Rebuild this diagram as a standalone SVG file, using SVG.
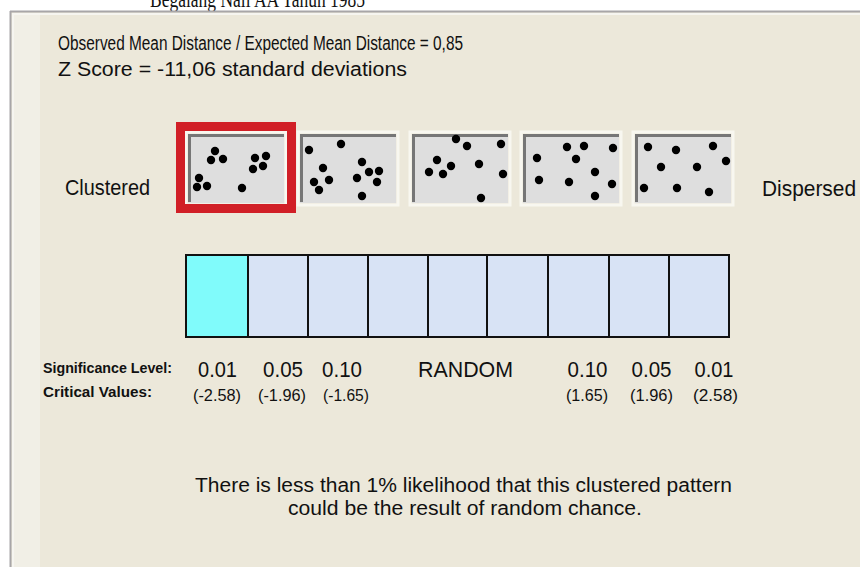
<svg xmlns="http://www.w3.org/2000/svg" width="860" height="567" viewBox="0 0 860 567">
<style>
.t{font-family:"Liberation Sans",Arial,sans-serif;fill:#111}
.m{font-size:20px}
.n{font-size:22px}
.p{font-size:17px}
.b{font-size:14px;font-weight:bold}
.pan{fill:#dedede}
.pdark{fill:none;stroke:#767676;stroke-width:3}
.pout{fill:none;stroke:#f8f7f0;stroke-width:3}
.cell{fill:#d8e3f5;stroke:#111;stroke-width:2}
.d{fill:#000}
</style>
<defs>
<circle id="dot" r="4.2"/>
</defs>
<rect width="860" height="567" fill="#ffffff"/>
<text class="t" x="150" y="7" style="font-family:'Liberation Serif',serif;font-size:24px" textLength="215" lengthAdjust="spacingAndGlyphs">Begalang Nali AA Tahun 1985</text>
<g id="frame">
<rect x="10" y="11" width="850" height="556" fill="#ece8da"/>
<rect x="12" y="13" width="28" height="554" fill="#f1efe6"/>
<line x1="10" y1="11.5" x2="860" y2="11.5" stroke="#a8a6a8" stroke-width="2"/>
<line x1="10.5" y1="11" x2="10.5" y2="567" stroke="#a8a6a8" stroke-width="2"/>
<line x1="12" y1="14" x2="860" y2="14" stroke="#f6f5f0" stroke-width="2"/>
<line x1="13" y1="14" x2="13" y2="567" stroke="#f6f5f0" stroke-width="2"/>
</g>
<g id="header">
<text class="t m" x="58" y="50" textLength="405" lengthAdjust="spacingAndGlyphs">Observed Mean Distance / Expected Mean Distance = 0,85</text>
<text class="t m" x="58" y="76" textLength="349" lengthAdjust="spacingAndGlyphs">Z Score = -11,06 standard deviations</text>
</g>
<g id="label-clustered"><text class="t n" x="65" y="195" textLength="85" lengthAdjust="spacingAndGlyphs">Clustered</text></g>
<g id="label-dispersed"><text class="t n" x="762" y="196" textLength="94" lengthAdjust="spacingAndGlyphs">Dispersed</text></g>
<g id="panels">
<g id="panel1">
<rect class="pout" x="186" y="132" width="100" height="73"/>
<rect class="pan" x="188" y="134" width="96" height="69"/>
<path class="pdark" d="M189.5 202 V135.5 H284"/>
<g class="d">
<use href="#dot" x="215" y="151"/><use href="#dot" x="211" y="160"/><use href="#dot" x="223" y="159"/>
<use href="#dot" x="255" y="158"/><use href="#dot" x="266" y="156"/><use href="#dot" x="263" y="166"/><use href="#dot" x="253" y="169"/>
<use href="#dot" x="199" y="178"/><use href="#dot" x="197" y="187"/><use href="#dot" x="207" y="186"/><use href="#dot" x="242" y="188"/>
</g>
</g>
<g id="panel2">
<rect class="pout" x="298" y="132" width="100" height="73"/>
<rect class="pan" x="300" y="134" width="96" height="69"/>
<path class="pdark" d="M301.5 202 V135.5 H396"/>
<g class="d">
<use href="#dot" x="309" y="150"/><use href="#dot" x="341" y="144"/><use href="#dot" x="323" y="168"/><use href="#dot" x="329" y="180"/>
<use href="#dot" x="314" y="182"/><use href="#dot" x="319" y="190"/><use href="#dot" x="362" y="162"/><use href="#dot" x="357" y="178"/>
<use href="#dot" x="369" y="172"/><use href="#dot" x="379" y="171"/><use href="#dot" x="377" y="182"/><use href="#dot" x="362" y="196"/>
</g>
</g>
<g id="panel3">
<rect class="pout" x="410" y="132" width="100" height="73"/>
<rect class="pan" x="412" y="134" width="96" height="69"/>
<path class="pdark" d="M413.5 202 V135.5 H508"/>
<g class="d">
<use href="#dot" x="456" y="139"/><use href="#dot" x="467" y="146"/><use href="#dot" x="437" y="160"/><use href="#dot" x="451" y="166"/>
<use href="#dot" x="429" y="172"/><use href="#dot" x="443" y="174"/><use href="#dot" x="479" y="164"/><use href="#dot" x="481" y="198"/>
<use href="#dot" x="501" y="144"/><use href="#dot" x="503" y="174"/>
</g>
</g>
<g id="panel4">
<rect class="pout" x="521" y="132" width="100" height="73"/>
<rect class="pan" x="523" y="134" width="96" height="69"/>
<path class="pdark" d="M524.5 202 V135.5 H619"/>
<g class="d">
<use href="#dot" x="567" y="147"/><use href="#dot" x="584" y="146"/><use href="#dot" x="613" y="148"/><use href="#dot" x="537" y="158"/>
<use href="#dot" x="576" y="159"/><use href="#dot" x="595" y="172"/><use href="#dot" x="539" y="180"/><use href="#dot" x="569" y="182"/>
<use href="#dot" x="612" y="184"/><use href="#dot" x="595" y="196"/>
</g>
</g>
<g id="panel5">
<rect class="pout" x="633" y="132" width="100" height="73"/>
<rect class="pan" x="635" y="134" width="96" height="69"/>
<path class="pdark" d="M636.5 202 V135.5 H731"/>
<g class="d">
<use href="#dot" x="648" y="147"/><use href="#dot" x="676" y="150"/><use href="#dot" x="713" y="146"/><use href="#dot" x="726" y="161"/>
<use href="#dot" x="661" y="167"/><use href="#dot" x="697" y="167"/><use href="#dot" x="644" y="188"/><use href="#dot" x="677" y="188"/>
<use href="#dot" x="709" y="192"/>
</g>
</g>
<g id="highlight">
<rect x="180.5" y="126.5" width="111" height="82" fill="none" stroke="#d11f26" stroke-width="9"/>
</g>
</g>
<g id="scale">
<rect class="cell" x="186" y="255" width="62" height="82" style="fill:#80fbfb"/>
<rect class="cell" x="248" y="255" width="60" height="82"/>
<rect class="cell" x="308" y="255" width="60" height="82"/>
<rect class="cell" x="368" y="255" width="60" height="82"/>
<rect class="cell" x="428" y="255" width="59" height="82"/>
<rect class="cell" x="487" y="255" width="61" height="82"/>
<rect class="cell" x="548" y="255" width="61" height="82"/>
<rect class="cell" x="609" y="255" width="60" height="82"/>
<rect class="cell" x="669" y="255" width="60" height="82"/>
</g>
<g id="levels">
<text class="t b" x="43" y="373" textLength="129" lengthAdjust="spacingAndGlyphs">Significance Level:</text>
<text class="t b" x="43" y="397" textLength="109" lengthAdjust="spacingAndGlyphs">Critical Values:</text>
<g text-anchor="middle">
<text class="t n" x="217.5" y="377" textLength="39" lengthAdjust="spacingAndGlyphs">0.01</text>
<text class="t n" x="283" y="377" textLength="40" lengthAdjust="spacingAndGlyphs">0.05</text>
<text class="t n" x="342" y="377" textLength="40" lengthAdjust="spacingAndGlyphs">0.10</text>
<text class="t n" x="465.5" y="377" textLength="95" lengthAdjust="spacingAndGlyphs">RANDOM</text>
<text class="t n" x="587.5" y="377" textLength="40" lengthAdjust="spacingAndGlyphs">0.10</text>
<text class="t n" x="651.5" y="377" textLength="40" lengthAdjust="spacingAndGlyphs">0.05</text>
<text class="t n" x="714" y="377" textLength="39" lengthAdjust="spacingAndGlyphs">0.01</text>
<text class="t p" x="217" y="401" textLength="48" lengthAdjust="spacingAndGlyphs">(-2.58)</text>
<text class="t p" x="282" y="401" textLength="48" lengthAdjust="spacingAndGlyphs">(-1.96)</text>
<text class="t p" x="346" y="401" textLength="46" lengthAdjust="spacingAndGlyphs">(-1.65)</text>
<text class="t p" x="587" y="401" textLength="42" lengthAdjust="spacingAndGlyphs">(1.65)</text>
<text class="t p" x="651.5" y="401" textLength="43" lengthAdjust="spacingAndGlyphs">(1.96)</text>
<text class="t p" x="715.5" y="401" textLength="45" lengthAdjust="spacingAndGlyphs">(2.58)</text>
</g>
</g>
<g id="summary" text-anchor="middle">
<text class="t m" x="463.5" y="492" textLength="537" lengthAdjust="spacingAndGlyphs">There is less than 1% likelihood that this clustered pattern</text>
<text class="t m" x="465" y="515" textLength="354" lengthAdjust="spacingAndGlyphs">could be the result of random chance.</text>
</g>
</svg>
